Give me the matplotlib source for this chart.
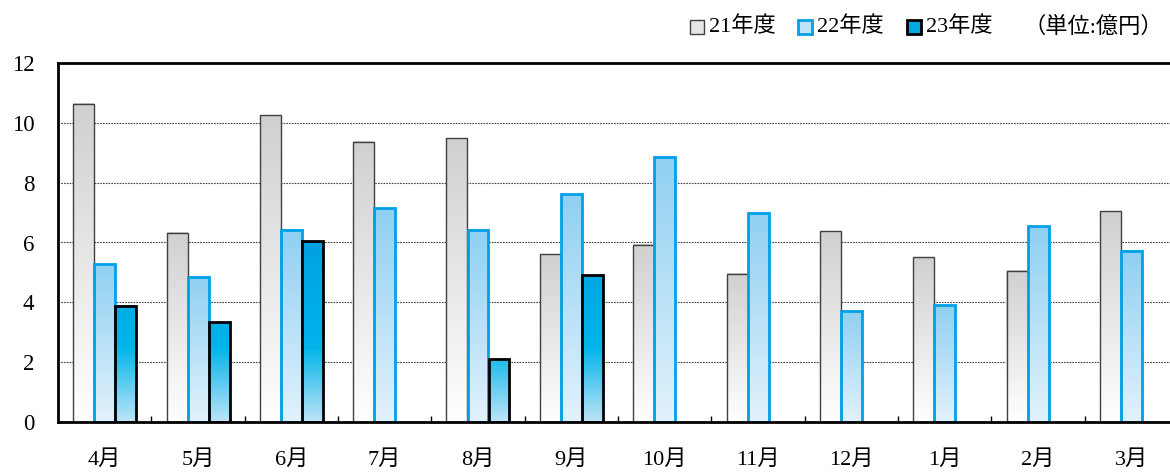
import numpy as np
import matplotlib
matplotlib.use("Agg")
import matplotlib.pyplot as plt
from matplotlib.colors import LinearSegmentedColormap
from matplotlib.patches import Rectangle

plt.rcParams['font.family'] = ['Liberation Serif', 'Noto Sans CJK JP', 'DejaVu Sans']

# data (単位: 億円)
months = ['4月', '5月', '6月', '7月', '8月', '9月', '10月', '11月', '12月', '1月', '2月', '3月']
fy21 = [10.63, 6.32, 10.26, 9.36, 9.49, 5.61, 5.92, 4.95, 6.38, 5.51, 5.05, 7.05]
fy22 = [5.28, 4.85, 6.42, 7.15, 6.42, 7.62, 8.86, 6.99, 3.71, 3.91, 6.55, 5.72]
fy23 = [3.88, 3.34, 6.05, np.nan, 2.10, 4.91, np.nan, np.nan, np.nan, np.nan, np.nan, np.nan]
series_names = ['21年度', '22年度', '23年度']

cmap21 = LinearSegmentedColormap.from_list('g21', ['#ffffff', '#d0d0d0'])
cmap22 = LinearSegmentedColormap.from_list('g22', ['#e2f2fc', '#8fd0f2'])
cmap23 = LinearSegmentedColormap.from_list('g23', [(0, '#bde4f7'), (2.5/6.5, '#00b4ea'), (1, '#009ee0')])

fig = plt.figure(figsize=(11.7, 4.73), dpi=100)
ax = fig.add_axes([58/1170, 51/473, 1120/1170, 359/473])

w = 0.225
x = np.arange(len(months))


def grad_bar(xc, h, cmap, edge, lw, absolute=False):
    if np.isnan(h):
        return
    if absolute:
        img = np.linspace(0, h, 256).reshape(-1, 1)
        vmin, vmax = 0, 6.5
    else:
        img = np.linspace(0, 1, 256).reshape(-1, 1)
        vmin, vmax = 0, 1
    ax.imshow(img, cmap=cmap, vmin=vmin, vmax=vmax, origin='lower', aspect='auto',
              extent=(xc - w/2, xc + w/2, 0, h), zorder=2, interpolation='bilinear')
    ax.bar(xc, h, w, facecolor='none', edgecolor=edge, linewidth=lw, zorder=3)


for i in x:
    grad_bar(i - w, fy21[i], cmap21, '#404040', 1.0)
    grad_bar(i, fy22[i], cmap22, '#00a0e8', 2.0)
    grad_bar(i + w, fy23[i], cmap23, 'black', 2.0, absolute=True)

ax.set_xlim(-0.5, 11.5)
ax.set_ylim(0, 12)
ax.set_yticks(np.arange(0, 13, 2))
ax.set_xticks(x)
ax.set_xticklabels(months)
ax.set_xticks(np.arange(0.5, 11, 1), minor=True)
ax.tick_params(axis='y', length=0, pad=17, labelsize=16.5)
ax.tick_params(axis='x', which='major', length=0, pad=20, labelsize=16)
ax.tick_params(axis='x', which='minor', direction='in', length=4, width=1)

for yv in range(2, 12, 2):
    ax.axhline(yv, color='#444444', lw=0.8, ls=(0, (1.5, 1)), zorder=1)

for s in ['top', 'left', 'bottom']:
    ax.spines[s].set_linewidth(2)
    ax.spines[s].set_zorder(4)
ax.spines['right'].set_visible(False)

# legend
fy = 1 - 34/473
sq = 14/473
legend_items = [(690, '#e6e6e6', '#404040', 1.0), (798, '#bfe3f7', '#00a0e8', 2.0), (907, '#00a8e4', 'black', 2.0)]
for (px, fc, ec, lw), name in zip(legend_items, series_names):
    fig.add_artist(Rectangle((px/1170, fy), 14/1170, sq, facecolor=fc, edgecolor=ec,
                             linewidth=lw, transform=fig.transFigure))
    fig.text((px + 19)/1170, fy + sq/2, name, fontsize=16, va='center', ha='left')
fig.text(1163/1170, fy + sq/2, '（単位:億円）', fontsize=16, va='center', ha='right')

fig.savefig('out.png', dpi=100)
